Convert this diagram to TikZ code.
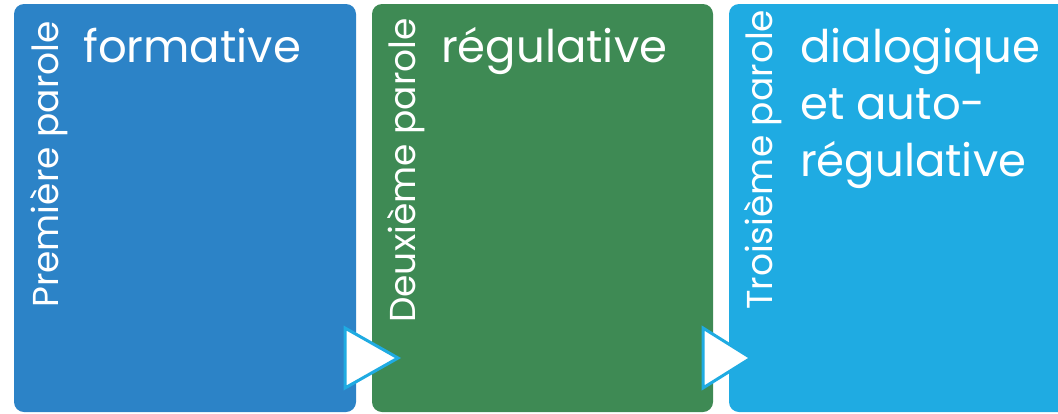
\documentclass[tikz,border=0pt]{standalone}
\usepackage{fontspec}
\setmainfont{Poppins}
\definecolor{cblue}{HTML}{2C83C7}
\definecolor{cgreen}{HTML}{3E8A54}
\definecolor{clight}{HTML}{1FABE2}
\begin{document}
\begin{tikzpicture}[x=1pt,y=-1pt,
  panel/.style={rounded corners=10pt},
  vlabel/.style={rotate=90,anchor=base west,text=white,inner sep=0pt,font=\fontsize{36}{44}\selectfont},
  title/.style={anchor=base west,text=white,inner sep=0pt,font=\fontsize{45}{57}\selectfont},
  arrowtri/.style={fill=white,draw=clight,line width=3pt,line join=miter}]
\useasboundingbox (0,0) rectangle (1058,413);
\fill[cblue,panel] (14,4) rectangle (356,412);
\fill[cgreen,panel] (372,4) rectangle (713,412);
\fill[clight,panel] (729,4) rectangle (1080,412);
\node[vlabel] (v1) at (58,308) {Première parole};
\node[vlabel] (v2) at (415,323) {Deuxième parole};
\node[vlabel] (v3) at (772,310) {Troisième parole};
\node[title] (t1) at (83,62) {formative};
\node[title] (t2) at (441,62) {régulative};
\node[title] (t3a) at (800,62) {dialogique};
\node[title] (t3b) at (800,119) {et auto-};
\node[title] (t3c) at (800,176) {régulative};
\draw[arrowtri] (345,328) -- (345,388) -- (398,358) -- cycle;
\draw[arrowtri] (703,328) -- (703,388) -- (751,358) -- cycle;
\end{tikzpicture}
\end{document}
